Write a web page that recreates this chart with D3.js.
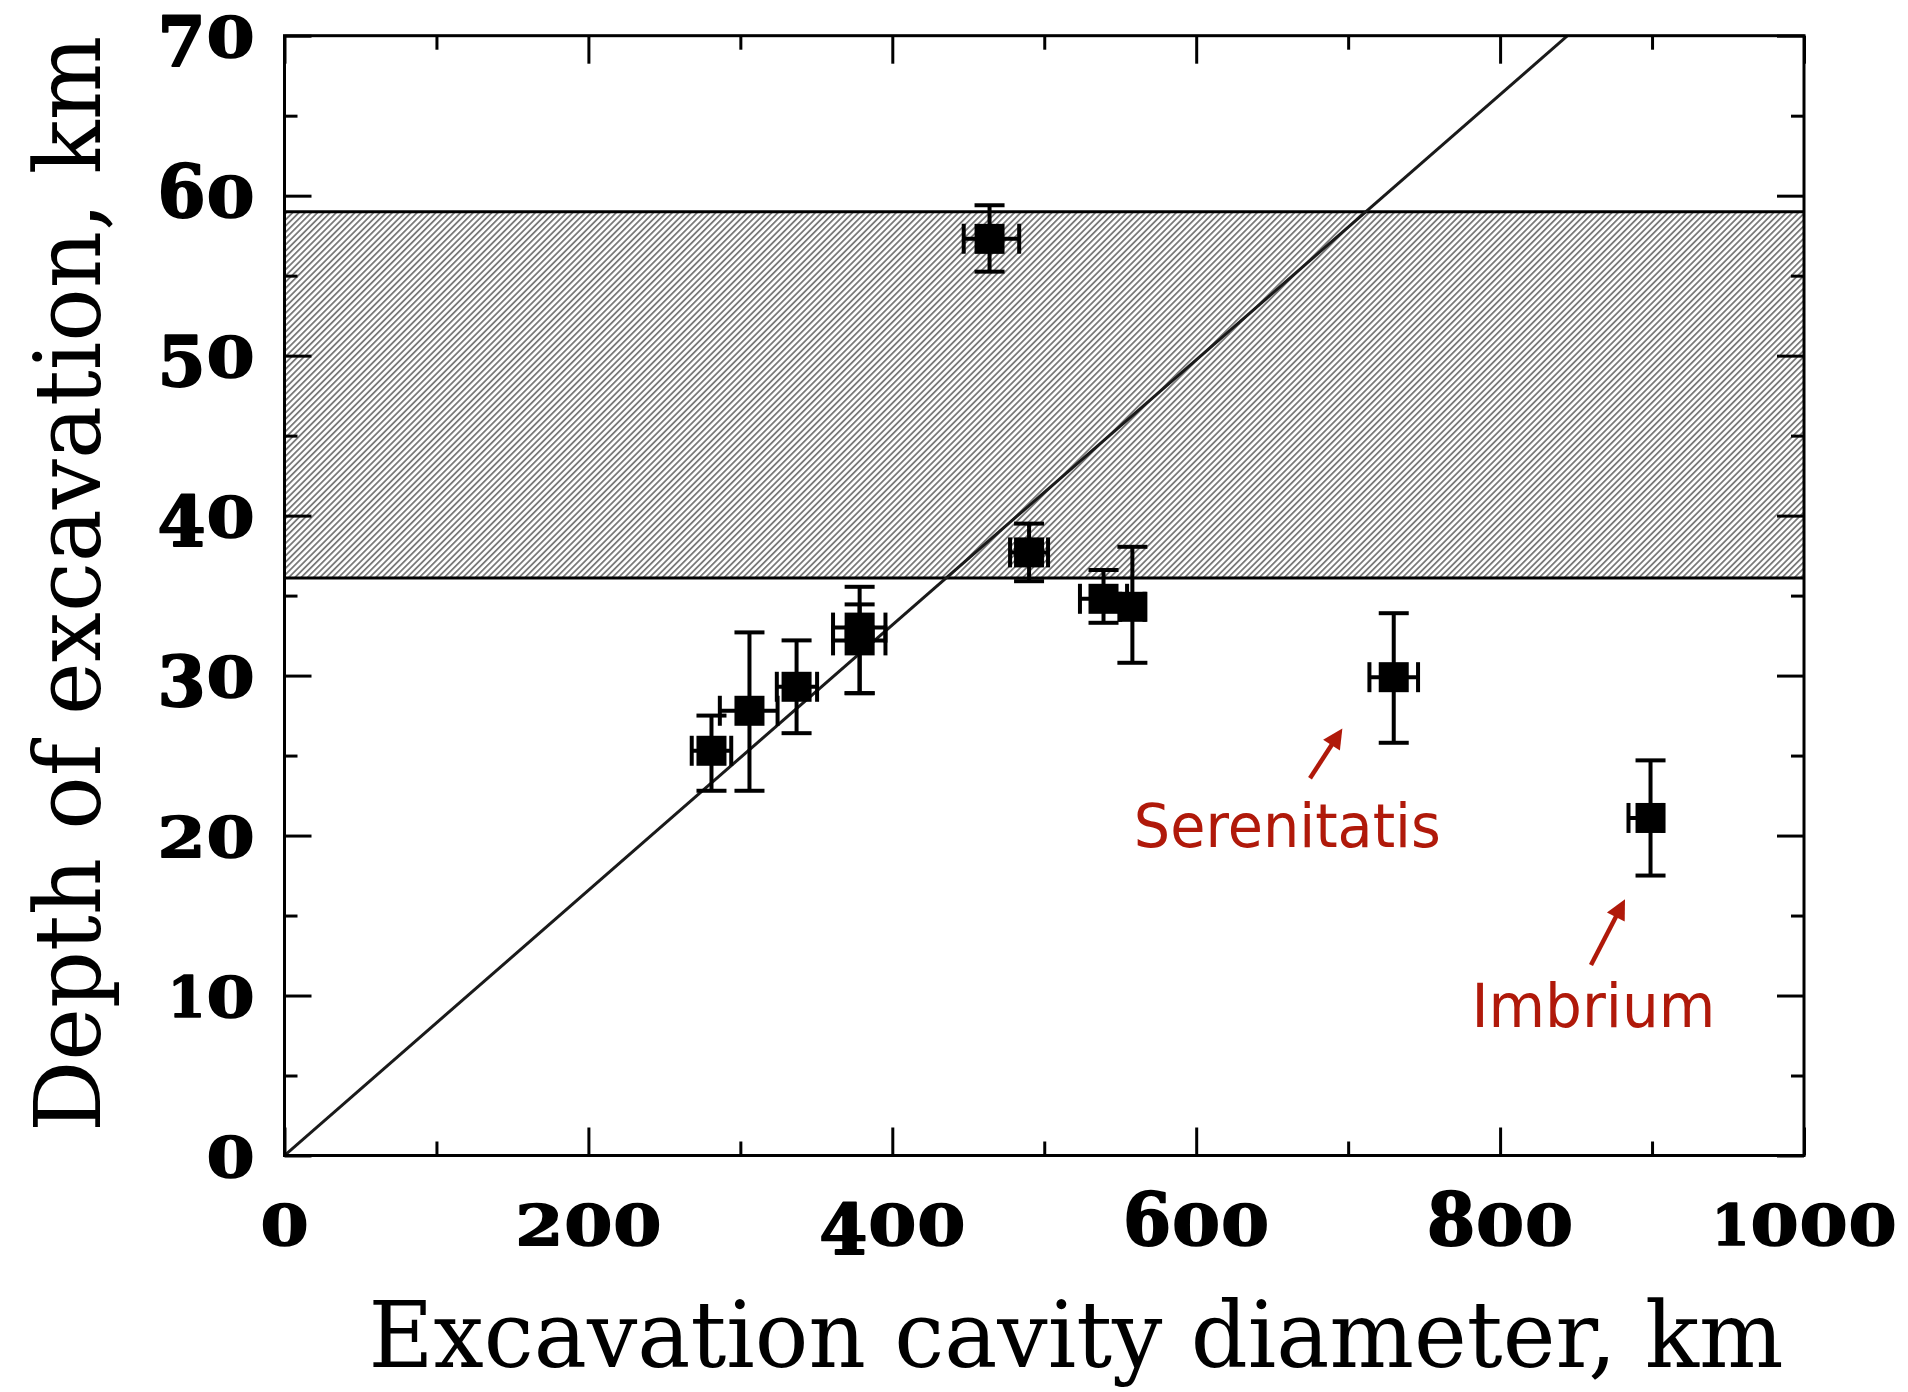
<!DOCTYPE html>
<html>
<head>
<meta charset="utf-8">
<script src="https://cdn.jsdelivr.net/npm/d3@7/dist/d3.min.js"></script>
<style>
  html, body { margin: 0; padding: 0; background: #fff; }
  svg { display: block; }
</style>
</head>
<body>
<svg id="chart" width="1908" height="1392"></svg>
<script>
// ---------------- DATA ----------------
const xTicksMajor = [0, 200, 400, 600, 800, 1000];
const xTicksMinor = [100, 300, 500, 700, 900];
const yTicksMajor = [0, 10, 20, 30, 40, 50, 60, 70];
const yTicksMinor = [5, 15, 25, 35, 45, 55, 65];
const xTickLabels = ["0", "200", "400", "600", "800", "1000"];
const yTickLabels = ["0", "10", "20", "30", "40", "50", "60", "70"];

// basins: excavation cavity diameter (km) vs depth of excavation (km)
const diameter   = [281, 306, 337, 378.5, 378.5, 464, 490, 539, 558, 730, 899];
const depth      = [25.3, 27.8, 29.3, 33.0, 32.2, 57.3, 37.7, 34.8, 34.3, 29.9, 21.1];
const depthLow   = [22.8, 22.8, 26.4, 28.9, 28.9, 55.25, 35.9, 33.3, 30.8, 25.8, 17.5];
const depthHigh  = [27.5, 32.7, 32.2, 35.55, 34.45, 59.4, 39.5, 36.6, 38.05, 33.9, 24.7];
const diamErrLow  = [13, 19.5, 13, 17.5, 17.5, 17, 12.5, 15.5, 8, 16, 14.5];
const diamErrHigh = [13, 18.5, 13.5, 17, 17, 19.5, 12.5, 15.5, 8, 16, 8];

// hatched band (depth range)
const bandDepth = [36.1, 59.0];
// linear fit through origin: depth = slope * diameter
const fitSlope = 0.0829;

// annotations (data units)
const annLabels  = ["Serenitatis", "Imbrium"];
const annLabelX  = [660, 861.4];
const annLabelY  = [19.28, 8.05];
const arrowFromX = [674.9, 859.8];
const arrowFromY = [23.58, 11.91];
const arrowToX   = [696.2, 882.2];
const arrowToY   = [26.7, 16.02];

const xTitle = "Excavation cavity diameter, km";
const yTitle = "Depth of excavation, km";

// ---------------- LAYOUT ----------------
const L = 284.5, R = 1804, T = 35.7, B = 1155.5;
const svg = d3.select("#chart");
svg.append("rect").attr("width", 1908).attr("height", 1392).attr("fill", "#fff");

const x = d3.scaleLinear().domain([0, 1000]).range([L, R]);
const y = d3.scaleLinear().domain([0, 70]).range([B, T]);

const defs = svg.append("defs");
defs.append("clipPath").attr("id", "plotClip")
  .append("rect").attr("x", L).attr("y", T).attr("width", R - L).attr("height", B - T);
const HP = 4.4;
const pat = defs.append("pattern").attr("id", "hatch")
  .attr("patternUnits", "userSpaceOnUse")
  .attr("width", HP).attr("height", 12)
  .attr("patternTransform", "rotate(45)");
pat.append("rect").attr("width", HP).attr("height", 12).attr("fill", "#fff");
pat.append("rect").attr("x", 0).attr("width", 1.8).attr("height", 12).attr("fill", "#7a7a7a");

const plot = svg.append("g").attr("clip-path", "url(#plotClip)");

// band
plot.append("rect")
  .attr("x", L).attr("width", R - L)
  .attr("y", y(bandDepth[1])).attr("height", y(bandDepth[0]) - y(bandDepth[1]))
  .attr("fill", "url(#hatch)");
bandDepth.forEach(v => {
  plot.append("line").attr("x1", L).attr("x2", R).attr("y1", y(v)).attr("y2", y(v))
    .attr("stroke", "#000").attr("stroke-width", 3);
});

// fit line
const fitPts = [[0, 0], [70 / fitSlope, 70]];
plot.append("path")
  .attr("d", d3.line().x(d => x(d[0])).y(d => y(d[1]))(fitPts))
  .attr("fill", "none").attr("stroke", "#1a1a1a").attr("stroke-width", 3);

// error bars + markers
const CAP = 30, MS = 30, EW = 4;
const pts = plot.append("g");
diameter.forEach((dv, i) => {
  const g = pts.append("g").attr("stroke", "#000").attr("stroke-width", EW).attr("fill", "none");
  const cx = x(dv), cy = y(depth[i]);
  const yl = y(depthLow[i]), yh = y(depthHigh[i]);
  const xl = x(dv - diamErrLow[i]), xh = x(dv + diamErrHigh[i]);
  g.append("line").attr("x1", cx).attr("x2", cx).attr("y1", yl).attr("y2", yh);
  g.append("line").attr("x1", cx - CAP / 2).attr("x2", cx + CAP / 2).attr("y1", yl).attr("y2", yl);
  g.append("line").attr("x1", cx - CAP / 2).attr("x2", cx + CAP / 2).attr("y1", yh).attr("y2", yh);
  g.append("line").attr("x1", xl).attr("x2", xh).attr("y1", cy).attr("y2", cy);
  g.append("line").attr("x1", xl).attr("x2", xl).attr("y1", cy - CAP / 2).attr("y2", cy + CAP / 2);
  g.append("line").attr("x1", xh).attr("x2", xh).attr("y1", cy - CAP / 2).attr("y2", cy + CAP / 2);
});
diameter.forEach((dv, i) => {
  pts.append("rect")
    .attr("x", x(dv) - MS / 2).attr("y", y(depth[i]) - MS / 2)
    .attr("width", MS).attr("height", MS).attr("fill", "#000");
});

// axes ticks (inward)
function styleAxis(g) {
  g.select(".domain").remove();
  g.selectAll(".tick line").attr("stroke", "#000").attr("stroke-width", 3);
  g.selectAll(".tick text").remove();
}
svg.append("g").attr("transform", `translate(0,${B})`)
  .call(d3.axisBottom(x).tickValues(xTicksMajor).tickSize(-28).tickFormat("")).call(styleAxis);
svg.append("g").attr("transform", `translate(0,${B})`)
  .call(d3.axisBottom(x).tickValues(xTicksMinor).tickSize(-14).tickFormat("")).call(styleAxis);
svg.append("g").attr("transform", `translate(0,${T})`)
  .call(d3.axisTop(x).tickValues(xTicksMajor).tickSize(-28).tickFormat("")).call(styleAxis);
svg.append("g").attr("transform", `translate(0,${T})`)
  .call(d3.axisTop(x).tickValues(xTicksMinor).tickSize(-14).tickFormat("")).call(styleAxis);
svg.append("g").attr("transform", `translate(${L},0)`)
  .call(d3.axisLeft(y).tickValues(yTicksMajor).tickSize(-27).tickFormat("")).call(styleAxis);
svg.append("g").attr("transform", `translate(${L},0)`)
  .call(d3.axisLeft(y).tickValues(yTicksMinor).tickSize(-13).tickFormat("")).call(styleAxis);
svg.append("g").attr("transform", `translate(${R},0)`)
  .call(d3.axisRight(y).tickValues(yTicksMajor).tickSize(-27).tickFormat("")).call(styleAxis);
svg.append("g").attr("transform", `translate(${R},0)`)
  .call(d3.axisRight(y).tickValues(yTicksMinor).tickSize(-13).tickFormat("")).call(styleAxis);

// frame
svg.append("rect").attr("x", L).attr("y", T).attr("width", R - L).attr("height", B - T)
  .attr("fill", "none").attr("stroke", "#000").attr("stroke-width", 3);

// old-style figure tick labels (bold serif), one glyph per element, boxes kept apart
function oldStyle(g, str, ax, baseline, align) {
  const F = 60, ADV = 0.696 * F;
  const chars = str.split("");
  const steps = chars.map(c => c === "1" ? 39 : 49);
  const total = d3.sum(steps);
  let start = align === "middle" ? ax - total / 2 : ax - total;
  chars.forEach((c, k) => {
    const w = steps[k];
    const sx = (w - 0.8) / ADV;
    const cx = start + w / 2;
    const asc = "68".includes(c), desc = "34579".includes(c);
    const sy = asc ? 1.22 : (desc ? 1.15 : 0.94);
    const dy = desc ? 9 : 0;
    g.append("text")
      .attr("transform", `translate(${cx},${baseline + dy}) scale(${sx},${sy})`)
      .attr("text-anchor", "middle")
      .style("font-family", "'DejaVu Serif', serif").style("font-weight", "bold")
      .style("font-size", F + "px").attr("fill", "#000")
      .attr("stroke", "#000").attr("stroke-width", 1.6).attr("stroke-linejoin", "round")
      .text(c);
    start += w;
  });
}
const labG = svg.append("g");
xTicksMajor.forEach((v, i) => oldStyle(labG, xTickLabels[i], x(v), 1245, "middle"));
yTicksMajor.forEach((v, i) => oldStyle(labG, yTickLabels[i], 255, y(v) + 21, "end"));

// axis titles
svg.append("text")
  .attr("x", 1076).attr("y", 1367).attr("text-anchor", "middle")
  .attr("textLength", 1415).attr("lengthAdjust", "spacingAndGlyphs")
  .style("font-family", "'DejaVu Serif', serif").style("font-size", "92px").attr("fill", "#000")
  .text(xTitle);
svg.append("text")
  .attr("transform", "translate(100,584) rotate(-90)").attr("text-anchor", "middle")
  .attr("textLength", 1096).attr("lengthAdjust", "spacingAndGlyphs")
  .style("font-family", "'DejaVu Serif', serif").style("font-size", "92px").attr("fill", "#000")
  .text(yTitle);

// annotations
const RED = "#b0190a";
const annLen = [307, 244];
annLabels.forEach((t, i) => {
  svg.append("text")
    .attr("x", x(annLabelX[i])).attr("y", y(annLabelY[i])).attr("text-anchor", "middle")
    .attr("textLength", annLen[i]).attr("lengthAdjust", "spacingAndGlyphs")
    .style("font-family", "'DejaVu Sans', sans-serif").style("font-size", "60px").attr("fill", RED)
    .text(t);
  const x1 = x(arrowFromX[i]), y1 = y(arrowFromY[i]);
  const x2 = x(arrowToX[i]), y2 = y(arrowToY[i]);
  const dx = x2 - x1, dy = y2 - y1, len = Math.hypot(dx, dy);
  const ux = dx / len, uy = dy / len;
  const HL = 20, HW = 10;
  const bx = x2 - ux * HL, by = y2 - uy * HL;
  svg.append("line").attr("x1", x1).attr("y1", y1).attr("x2", bx + ux * 2).attr("y2", by + uy * 2)
    .attr("stroke", RED).attr("stroke-width", 4.5);
  svg.append("path")
    .attr("d", `M${x2},${y2}L${bx - uy * HW},${by + ux * HW}L${bx + uy * HW},${by - ux * HW}Z`)
    .attr("fill", RED);
});
</script>
</body>
</html>
